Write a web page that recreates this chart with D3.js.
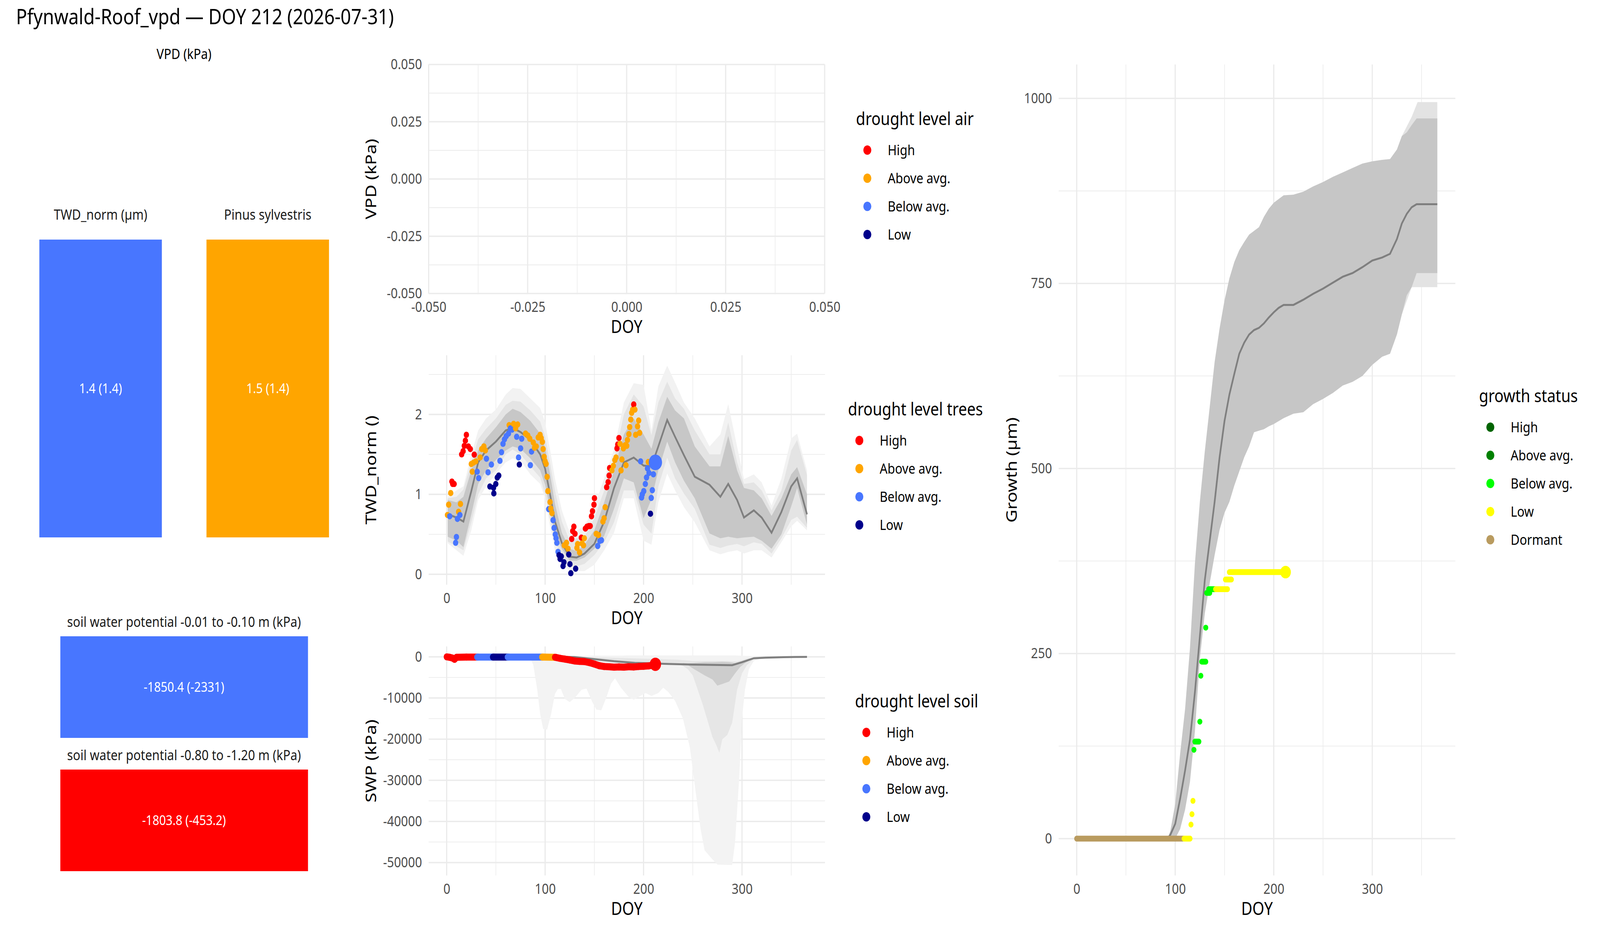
<!DOCTYPE html>
<html lang="en">
<head>
<meta charset="UTF-8">
<title>Pfynwald-Roof_vpd</title>
<script src="https://cdn.jsdelivr.net/npm/d3@7"></script>
<style>
  html, body { margin: 0; padding: 0; background: #fff; overflow: hidden; }
  svg { display: block; width: 100vw; height: 100vh; font-family: "Noto Sans", sans-serif; }
  .grid-major { stroke: #ebebeb; stroke-width: 3.6; }
  .grid-minor { stroke: #ebebeb; stroke-width: 1.8; }
  .tick-lab { fill: #4d4d4d; font-size: 36.7px; }
  .axis-title { fill: #000; font-size: 45.8px; }
  .leg-title { font-size: 45.8px; }
  .leg-text { font-size: 36.7px; }
</style>
</head>
<body>
<script>
    // drought classes
    const lvlCodes = ["H", "A", "B", "L"];
    const lvlNames = ["High", "Above avg.", "Below avg.", "Low"];
    const lvlColors = ["#ff0000", "#ffa500", "#4876ff", "#00008b"];

    const growthCodes = ["H", "A", "B", "L", "D"];
    const growthNames = ["High", "Above avg.", "Below avg.", "Low", "Dormant"];
    const growthColors = ["#006400", "#008000", "#00ff00", "#ffff00", "#b99b5f"];

    // left summary tiles
    const treeTiles = ["TWD_norm (µm)", "Pinus sylvestris"];
    const treeTileText = ["1.4 (1.4)", "1.5 (1.4)"];
    const treeTileLvl = ["B", "A"];
    const soilTiles = ["soil water potential -0.01 to -0.10 m (kPa)", "soil water potential -0.80 to -1.20 m (kPa)"];
    const soilTileText = ["-1850.4 (-2331)", "-1803.8 (-453.2)"];
    const soilTileLvl = ["B", "H"];

    // axis ticks
    const vpdTicks = [-0.05, -0.025, 0, 0.025, 0.05];
    const doyTicks = [0, 100, 200, 300];
    const twdTicks = [0, 1, 2];
    const swpTicks = [0, -10000, -20000, -30000, -40000, -50000];
    const growthTicks = [0, 250, 500, 750, 1000];

    // TWD climatology (median + three quantile bands)
    const twdDoy   = [1, 10, 17, 25, 32, 40, 50, 60, 67, 75, 85, 95, 100, 105, 110, 117, 125, 132, 140, 150, 160, 170, 180, 190, 200, 208, 215, 224, 232, 241, 252, 267, 278, 286, 295, 302, 312, 320, 330, 340, 350, 356, 366];
    const twdMed   = [0.75, 0.71, 0.66, 1.04, 1.4, 1.55, 1.66, 1.8, 1.83, 1.78, 1.68, 1.5, 1.32, 1.0, 0.66, 0.39, 0.22, 0.21, 0.26, 0.38, 0.66, 1.08, 1.4, 1.46, 1.36, 1.35, 1.6, 1.93, 1.72, 1.49, 1.22, 1.12, 0.97, 1.13, 0.93, 0.71, 0.8, 0.71, 0.52, 0.78, 1.1, 1.2, 0.75];
    const twdInLo  = [0.47, 0.42, 0.34, 0.75, 1.13, 1.3, 1.43, 1.55, 1.6, 1.57, 1.45, 1.3, 1.12, 0.82, 0.5, 0.32, 0.17, 0.17, 0.21, 0.32, 0.48, 0.82, 1.2, 1.15, 0.7, 0.94, 1.3, 1.66, 1.4, 1.17, 0.95, 0.51, 0.45, 0.47, 0.45, 0.46, 0.47, 0.42, 0.32, 0.5, 0.85, 1.08, 0.62];
    const twdInHi  = [0.93, 0.9, 0.97, 1.3, 1.55, 1.7, 1.84, 2.0, 2.07, 2.03, 1.92, 1.76, 1.58, 1.26, 0.88, 0.52, 0.32, 0.29, 0.37, 0.55, 0.9, 1.3, 1.75, 1.95, 1.75, 1.57, 1.9, 2.22, 2.05, 1.95, 1.6, 1.35, 1.35, 1.73, 1.3, 1.08, 1.05, 0.95, 0.73, 0.95, 1.25, 1.34, 1.0];
    const twdMdLo  = [0.41, 0.35, 0.3, 0.65, 1.0, 1.2, 1.3, 1.5, 1.56, 1.5, 1.35, 1.21, 1.0, 0.69, 0.4, 0.24, 0.1, 0.1, 0.13, 0.24, 0.4, 0.65, 1.05, 1.05, 0.62, 0.51, 1.1, 1.46, 1.2, 1.01, 0.82, 0.37, 0.33, 0.36, 0.38, 0.35, 0.4, 0.38, 0.26, 0.45, 0.68, 0.72, 0.58];
    const twdMdHi  = [0.95, 0.97, 1.06, 1.4, 1.69, 1.82, 1.95, 2.12, 2.17, 2.16, 2.05, 1.91, 1.72, 1.39, 1.05, 0.66, 0.42, 0.45, 0.47, 0.7, 1.05, 1.43, 2.0, 2.25, 2.1, 1.74, 2.15, 2.41, 2.2, 2.07, 1.8, 1.5, 1.5, 1.9, 1.4, 1.13, 1.15, 1.05, 0.8, 1.05, 1.55, 1.68, 1.24];
    const twdOutLo = [0.39, 0.3, 0.23, 0.55, 0.93, 1.1, 1.26, 1.4, 1.45, 1.42, 1.25, 1.13, 0.95, 0.6, 0.3, 0.15, 0.04, 0.04, 0.04, 0.12, 0.3, 0.52, 0.95, 0.95, 0.42, 0.37, 0.9, 1.26, 1.05, 0.84, 0.65, 0.3, 0.25, 0.28, 0.3, 0.26, 0.3, 0.3, 0.21, 0.4, 0.6, 0.67, 0.55];
    const twdOutHi = [0.97, 1.05, 1.1, 1.5, 1.8, 1.95, 2.06, 2.25, 2.33, 2.32, 2.2, 2.08, 1.9, 1.56, 1.2, 0.8, 0.52, 0.55, 0.6, 0.85, 1.2, 1.56, 2.15, 2.39, 2.37, 1.8, 2.35, 2.61, 2.4, 2.15, 1.95, 1.6, 1.75, 2.13, 1.6, 1.19, 1.25, 1.15, 0.86, 1.2, 1.7, 1.76, 1.3];

    // TWD observations of the current year
    const twdObsDoy = [0.8, 2, 4.1, 3.1, 5.3, 6.1, 7.6, 9.1, 9.9, 10.9, 12.1, 13.4, 14, 15.2, 16.7, 17.9, 19, 20, 22, 24, 25, 26, 27.2, 28, 29.5, 31, 32.5, 34, 35.6, 37.8, 39.3, 40.4, 42, 43.9, 45.4, 47.6, 47.9, 49.9, 51.4, 52.9, 54.1, 55.7, 57.2, 58.7, 60.5, 62.8, 63.5, 64.7, 66.5, 68, 70, 71.1, 72.1, 73, 73.8, 75.1, 76.2, 80.1, 82.4, 84.4, 85, 86.2, 88, 89.2, 91, 93, 94.9, 96, 97.2, 98, 99, 100, 101, 102, 102.8, 103.6, 105, 105.8, 106.9, 108.1, 109.1, 110.3, 111.1, 111.9, 113.1, 114.1, 115.2, 116.4, 118.2, 119.1, 119.4, 121.7, 123.2, 124, 125.2, 126.1, 127, 128, 129.2, 130.3, 131, 132.3, 133, 135, 136.8, 137.5, 139, 139.8, 140.9, 142.5, 144.3, 145.8, 147.1, 148.1, 149.6, 150.1, 151.9, 153.4, 154.2, 155.7, 157.2, 158.7, 159.9, 161, 162.5, 164, 165, 165.5, 167.8, 169.3, 170.8, 172, 173, 173.8, 175, 176.1, 177.1, 178, 179.5, 181.3, 182.1, 182.9, 183.6, 185.1, 185.9, 187, 187.9, 188.9, 190, 191.2, 192, 193.9, 195, 196, 197, 198, 198.7, 200.2, 201.8, 203, 204, 204.8, 205.5, 207, 207.8, 208.9, 210];
    const twdObsVal = [0.742, 0.871, 1.017, 0.726, 1.16, 1.13, 1.13, 0.394, 0.467, 0.693, 0.782, 0.742, 0.88, 1.5, 1.54, 1.607, 1.672, 1.745, 1.6, 1.567, 1.38, 1.284, 1.397, 1.497, 1.413, 1.284, 1.203, 1.462, 1.567, 1.6, 1.55, 1.446, 1.276, 1.098, 1.373, 1.082, 1.012, 1.13, 1.21, 1.235, 1.42, 1.527, 1.632, 1.688, 1.729, 1.761, 1.866, 1.826, 1.81, 1.882, 1.826, 1.72, 1.874, 1.462, 1.373, 1.575, 1.696, 1.761, 1.737, 1.696, 1.365, 1.535, 1.648, 1.583, 1.6, 1.712, 1.745, 1.704, 1.656, 1.567, 1.47, 1.413, 1.381, 1.219, 1.041, 0.815, 0.904, 0.823, 0.766, 0.677, 0.58, 0.499, 0.451, 0.394, 0.281, 0.24, 0.192, 0.224, 0.103, 0.151, 0.362, 0.394, 0.321, 0.248, 0.127, 0.014, 0.442, 0.54, 0.596, 0.507, 0.07, 0.33, 0.378, 0.273, 0.459, 0.386, 0.362, 0.451, 0.572, 0.596, 0.604, 0.604, 0.726, 0.79, 0.871, 0.952, 0.507, 0.354, 0.491, 0.418, 0.426, 0.66, 0.701, 0.839, 1.09, 1.154, 1.235, 1.33, 1.3, 1.357, 1.429, 1.462, 1.575, 1.624, 1.705, 1.632, 1.3, 1.437, 1.575, 1.616, 1.365, 1.607, 1.68, 1.753, 1.842, 1.936, 2.02, 2.06, 2.125, 2.06, 1.745, 1.85, 1.923, 1.769, 1.413, 0.96, 1.0, 1.041, 1.13, 1.211, 1.324, 1.405, 1.268, 0.758, 0.955, 1.052, 1.251];
    const twdObsLvl = ["A", "A", "A", "B", "H", "H", "H", "B", "B", "B", "A", "B", "A", "H", "H", "H", "H", "H", "H", "H", "A", "A", "A", "H", "A", "B", "B", "A", "A", "A", "A", "B", "B", "L", "B", "L", "L", "L", "L", "L", "B", "B", "B", "B", "B", "B", "A", "B", "B", "A", "A", "B", "A", "B", "L", "B", "B", "A", "A", "A", "B", "B", "A", "A", "A", "A", "A", "A", "A", "A", "A", "A", "A", "A", "A", "B", "A", "A", "A", "B", "B", "B", "B", "B", "B", "L", "L", "L", "L", "L", "A", "A", "A", "L", "L", "L", "H", "H", "H", "H", "L", "A", "A", "A", "H", "A", "A", "A", "H", "H", "H", "H", "H", "H", "H", "H", "A", "B", "A", "B", "B", "A", "A", "A", "H", "H", "H", "H", "A", "A", "A", "A", "H", "H", "H", "A", "A", "A", "A", "A", "A", "A", "A", "A", "A", "A", "A", "A", "H", "A", "A", "A", "A", "A", "B", "B", "B", "B", "B", "B", "B", "A", "B", "L", "B", "B", "B"];
    const twdNow = { doy: 212, val: 1.4, lvl: "B" };

    // soil water potential: climatology and current year
    const swpOutDoy = [80, 85, 88, 92, 95, 98, 102, 106, 110, 113, 116, 120, 125, 130, 137, 142, 148, 152, 157, 162, 167, 171, 177, 185, 190, 196, 202, 208, 215, 220, 225, 232, 240, 247, 253, 258, 262, 268, 275, 290, 293, 297, 300, 303, 307, 312, 320, 335];
    const swpOutLo  = [0, -300, -2000, -8000, -14000, -17500, -17700, -14000, -9000, -7800, -7800, -10200, -11000, -10000, -8000, -7700, -11000, -12800, -13000, -10000, -6500, -5200, -7500, -9800, -10400, -9600, -8800, -9500, -8800, -7500, -8500, -10700, -15000, -22000, -33000, -42000, -47000, -48700, -50500, -50600, -45000, -30000, -15000, -8000, -3000, -1000, -300, 0];
    const swpOutHi  = [0, 0, 0, 0, 0, 0, 0, 100, 150, 200, 200, 200, 200, 250, 250, 250, 300, 300, 300, 300, 300, 300, 300, 350, 350, 350, 350, 350, 350, 350, 350, 350, 350, 350, 350, 350, 350, 350, 350, 350, 350, 300, 300, 250, 200, 100, 0, 0];
    const swpMidDoy = [100, 120, 150, 180, 210, 235, 240, 245, 250, 255, 260, 265, 270, 274, 277, 280, 285, 290, 295, 300, 305, 312, 320, 330];
    const swpMidLo  = [0, -300, -1000, -1700, -1900, -1800, -2200, -3000, -4500, -8000, -11500, -15500, -19500, -21500, -23300, -20000, -19000, -16000, -8000, -4000, -2000, -500, -200, 0];
    const swpMidHi  = [0, 0, -100, -300, -500, -700, -800, -900, -1000, -1000, -1000, -1000, -1000, -1000, -1000, -1000, -1000, -1100, -1100, -800, -400, -200, -100, 0];
    const swpInDoy  = [240, 245, 250, 255, 262, 270, 275, 280, 287, 293, 298, 303, 310];
    const swpInLo   = [-1800, -2000, -2800, -3500, -4500, -5500, -7000, -6600, -6000, -4000, -2500, -1500, -500];
    const swpInHi   = [-1500, -1600, -1500, -1400, -1300, -1300, -1250, -1200, -1300, -1500, -1200, -800, -300];
    const swpRefDoy = [0, 120, 130, 148, 170, 191, 206, 221, 251, 290, 300, 312, 324, 342, 366];
    const swpRefMed = [0, 0, -50, -500, -1060, -1450, -1550, -1700, -1890, -2030, -1300, -340, -200, -80, 0];

    const swpObsDoy = [0, 3, 6, 8, 10, 20, 31, 32, 47, 48, 62, 63, 97, 98, 110, 111, 115, 120, 125, 130, 135, 140, 145, 150, 155, 160, 165, 170, 175, 180, 185, 190, 195, 200, 205, 210, 212];
    const swpObsVal = [0, -100, -300, -600, -100, -50, -50, -50, -50, -50, -50, -50, -50, -50, -100, -150, -350, -550, -750, -1000, -1100, -1150, -1400, -1750, -2150, -2350, -2400, -2500, -2450, -2500, -2400, -2450, -2350, -2300, -2200, -2000, -1804];
    const swpObsLvl = ["H", "H", "H", "H", "H", "H", "H", "B", "B", "L", "L", "B", "B", "A", "A", "H", "H", "H", "H", "H", "H", "H", "H", "H", "H", "H", "H", "H", "H", "H", "H", "H", "H", "H", "H", "H", "H"];
    const swpNow = { doy: 212, val: -1804, lvl: "H" };

    // cumulative growth: climatology and current year
    const grDoy = [0, 92, 95, 100, 105, 110, 115, 120, 125, 130, 135, 140, 145, 150, 155, 160, 165, 170, 175, 180, 185, 190, 195, 200, 205, 210, 220, 230, 240, 250, 260, 270, 280, 290, 300, 310, 318, 325, 330, 335, 340, 345, 366];
    const grMed = [0, 0, 5, 20, 54, 92, 134, 198, 273, 349, 402, 455, 515, 564, 600, 628, 655, 670, 681, 687, 690, 696, 704, 711, 717, 721, 721, 728, 736, 743, 751, 759, 764, 772, 781, 785, 790, 810, 831, 844, 853, 857, 857];
    const grHi  = [0, 0, 10, 47, 115, 175, 258, 372, 455, 523, 583, 644, 689, 727, 757, 779, 795, 806, 816, 821, 826, 840, 851, 859, 864, 869, 870, 874, 881, 887, 894, 900, 906, 912, 915, 917, 918, 931, 949, 954, 964, 973, 973];
    const grLo  = [0, 0, 0, 0, 13, 39, 77, 145, 243, 304, 345, 383, 417, 440, 455, 477, 496, 515, 530, 549, 551, 553, 557, 560, 564, 568, 574, 576, 587, 594, 602, 612, 617, 625, 640, 651, 655, 681, 708, 734, 745, 764, 764];
    const grTailDoy = [330, 340, 346, 366];
    const grTailHi  = [949, 975, 995, 995];
    const grTailLo  = [708, 745, 745, 745];

    const grRunStart = [0, 109, 116, 117, 118, 119, 120, 125, 126, 127, 131, 132, 134, 141, 151, 155];
    const grRunEnd   = [108, 115, 116, 117, 118, 119, 124, 125, 126, 131, 131, 135, 142, 153, 157, 212];
    const grRunVal   = [0, 0, 19, 33, 51, 120, 131, 158, 220, 239, 285, 332, 337, 337, 350, 360];
    const grRunLvl   = ["D", "L", "L", "L", "L", "B", "B", "B", "B", "B", "B", "B", "B", "L", "L", "L"];
    const grNow = { doy: 212, val: 360, lvl: "L" };

    // drawing space; stretched onto whatever window the page gets
    const width = 4800;
    const height = 2400;

    const svg = d3.select("body").append("svg")
            .attr("viewBox", `0 0 ${width} ${height}`)
            .attr("preserveAspectRatio", "none");
    svg.append("rect").attr("width", width).attr("height", height).attr("fill", "#fff");

    const lvlColor = d3.scaleOrdinal().domain(lvlCodes).range(lvlColors);
    const growthColor = d3.scaleOrdinal().domain(growthCodes).range(growthColors);

    // ---------- title and left tiles ----------
    svg.append("text").attr("x", 48).attr("y", 43).attr("dy", "0.35em")
        .style("font-size", "55px").text("Pfynwald-Roof_vpd — DOY 212 (2026-07-31)");

    svg.append("text").attr("x", 552).attr("y", 138).attr("dy", "0.35em")
        .attr("text-anchor", "middle").style("font-size", "36.7px").text("VPD (kPa)");

    const tileX = d3.scaleBand().domain(treeTiles).range([118, 987]).paddingInner(0.267);
    const treeG = svg.append("g");
    treeTiles.forEach((t, i) => {
        treeG.append("rect").attr("x", tileX(t)).attr("y", 613)
            .attr("width", tileX.bandwidth()).attr("height", 762)
            .attr("fill", lvlColor(treeTileLvl[i]));
        treeG.append("text").attr("x", tileX(t) + tileX.bandwidth() / 2).attr("y", 549).attr("dy", "0.35em")
            .attr("text-anchor", "middle").style("font-size", "36.7px").attr("fill", "#1a1a1a").text(t);
        treeG.append("text").attr("x", tileX(t) + tileX.bandwidth() / 2).attr("y", 994).attr("dy", "0.35em")
            .attr("text-anchor", "middle").style("font-size", "35px").attr("fill", "#fff").text(treeTileText[i]);
    });

    const tileY = d3.scaleBand().domain(soilTiles).range([1628, 2229]).paddingInner(0.2375);
    const soilG = svg.append("g");
    soilTiles.forEach((t, i) => {
        soilG.append("rect").attr("x", 181).attr("y", tileY(t))
            .attr("width", 743).attr("height", tileY.bandwidth())
            .attr("fill", lvlColor(soilTileLvl[i]));
        soilG.append("text").attr("x", 552).attr("y", tileY(t) - 37).attr("dy", "0.35em")
            .attr("text-anchor", "middle").style("font-size", "36.7px").attr("fill", "#1a1a1a").text(t);
        soilG.append("text").attr("x", 552).attr("y", tileY(t) + tileY.bandwidth() / 2).attr("dy", "0.35em")
            .attr("text-anchor", "middle").style("font-size", "35px").attr("fill", "#fff").text(soilTileText[i]);
    });

    // ---------- helpers ----------
    function minorsOf(ticks, domain) {
        const out = [];
        for (let i = 0; i < ticks.length - 1; i++) out.push((ticks[i] + ticks[i + 1]) / 2);
        const step = Math.abs(ticks[1] - ticks[0]);
        const lo = Math.min(...ticks), hi = Math.max(...ticks);
        if (lo - step / 2 >= Math.min(...domain)) out.push(lo - step / 2);
        if (hi + step / 2 <= Math.max(...domain)) out.push(hi + step / 2);
        return out;
    }

    function panel(x, y, xTicks, yTicks, fmtX, fmtY, xTitle, yTitle, yTitleX) {
        const g = svg.append("g");
        const [x0, x1] = x.range();
        const [y1, y0] = y.range();
        g.selectAll("line.ymin").data(minorsOf(yTicks, y.domain())).enter().append("line")
            .attr("class", "grid-minor").attr("x1", x0).attr("x2", x1)
            .attr("y1", d => y(d)).attr("y2", d => y(d));
        g.selectAll("line.xmin").data(minorsOf(xTicks, x.domain())).enter().append("line")
            .attr("class", "grid-minor").attr("y1", y0).attr("y2", y1)
            .attr("x1", d => x(d)).attr("x2", d => x(d));
        g.selectAll("line.ymaj").data(yTicks).enter().append("line")
            .attr("class", "grid-major").attr("x1", x0).attr("x2", x1)
            .attr("y1", d => y(d)).attr("y2", d => y(d));
        g.selectAll("line.xmaj").data(xTicks).enter().append("line")
            .attr("class", "grid-major").attr("y1", y0).attr("y2", y1)
            .attr("x1", d => x(d)).attr("x2", d => x(d));

        const ax = g.append("g").attr("transform", `translate(0,${y1 + 21})`)
            .call(d3.axisBottom(x).tickValues(xTicks).tickFormat(fmtX).tickSize(0).tickPadding(0));
        ax.select(".domain").remove();
        ax.selectAll("text").attr("class", "tick-lab").attr("dy", "0.71em");
        ax.attr("font-family", null).attr("font-size", null);

        const ay = g.append("g").attr("transform", `translate(${x0 - 20},0)`)
            .call(d3.axisLeft(y).tickValues(yTicks).tickFormat(fmtY).tickSize(0).tickPadding(0));
        ay.select(".domain").remove();
        ay.selectAll("text").attr("class", "tick-lab");
        ay.attr("font-family", null).attr("font-size", null);

        g.append("text").attr("class", "axis-title").attr("x", (x0 + x1) / 2).attr("y", y1 + 85)
            .attr("dy", "0.35em").attr("text-anchor", "middle").text(xTitle);
        g.append("text").attr("class", "axis-title")
            .attr("transform", `translate(${yTitleX},${(y0 + y1) / 2}) rotate(-90)`)
            .attr("dy", "0.35em").attr("text-anchor", "middle").text(yTitle);
        return g;
    }

    function band(g, x, y, doy, lo, hi, fill) {
        g.append("path").datum(doy.map((d, i) => [d, lo[i], hi[i]]))
            .attr("fill", fill)
            .attr("d", d3.area().x(d => x(d[0])).y0(d => y(d[1])).y1(d => y(d[2])));
    }

    function medLine(g, x, y, doy, vals) {
        g.append("path").datum(doy.map((d, i) => [d, vals[i]]))
            .attr("fill", "none").attr("stroke", "#7f7f7f").attr("stroke-width", 5)
            .attr("d", d3.line().x(d => x(d[0])).y(d => y(d[1])));
    }

    function legend(x, y, title, names, colors) {
        const g = svg.append("g");
        g.append("text").attr("class", "leg-title").attr("x", x).attr("y", y).attr("dy", "0.35em").text(title);
        names.forEach((n, i) => {
            g.append("circle").attr("cx", x + 34).attr("cy", y + 80 + 72 * i).attr("r", 12).attr("fill", colors[i]);
            g.append("text").attr("class", "leg-text").attr("x", x + 95).attr("y", y + 80 + 72 * i)
                .attr("dy", "0.35em").text(n);
        });
    }

    const fmtInt = d => String(d);

    // ---------- VPD panel (no data) ----------
    const xVpd = d3.scaleLinear().domain([-0.05, 0.05]).range([1286, 2474]);
    const yVpd = d3.scaleLinear().domain([-0.05, 0.05]).range([751, 165]);
    panel(xVpd, yVpd, vpdTicks, vpdTicks, d => d.toFixed(3), d => d.toFixed(3), "DOY", "VPD (kPa)", 1113);
    legend(2568, 304, "drought level air", lvlNames, lvlColors);

    // ---------- TWD panel ----------
    const xTwd = d3.scaleLinear().domain([-18.3, 384.3]).range([1286, 2475]);
    const yTwd = d3.scaleLinear().domain([-0.13, 2.74]).range([1496, 909]);
    const twdG = panel(xTwd, yTwd, doyTicks, twdTicks, fmtInt, fmtInt, "DOY", "TWD_norm ()", 1113);
    band(twdG, xTwd, yTwd, twdDoy, twdOutLo, twdOutHi, "#f2f2f2");
    band(twdG, xTwd, yTwd, twdDoy, twdMdLo, twdMdHi, "#e4e4e4");
    band(twdG, xTwd, yTwd, twdDoy, twdInLo, twdInHi, "#c7c7c7");
    medLine(twdG, xTwd, yTwd, twdDoy, twdMed);
    twdG.selectAll("circle.obs").data(twdObsDoy).enter().append("circle")
        .attr("cx", d => xTwd(d)).attr("cy", (d, i) => yTwd(twdObsVal[i]))
        .attr("r", 8).attr("fill", (d, i) => lvlColor(twdObsLvl[i]));
    twdG.append("circle").attr("cx", xTwd(twdNow.doy)).attr("cy", yTwd(twdNow.val))
        .attr("r", 20).attr("fill", lvlColor(twdNow.lvl));
    legend(2544, 1047, "drought level trees", lvlNames, lvlColors);

    // ---------- SWP panel ----------
    const xSwp = d3.scaleLinear().domain([-18.3, 384.3]).range([1286, 2475]);
    const ySwp = d3.scaleLinear().domain([-53130, 2530]).range([2240, 1654]);
    const swpG = panel(xSwp, ySwp, doyTicks, swpTicks, fmtInt, fmtInt, "DOY", "SWP (kPa)", 1113);
    band(swpG, xSwp, ySwp, swpOutDoy, swpOutLo, swpOutHi, "#f3f3f3");
    band(swpG, xSwp, ySwp, swpMidDoy, swpMidLo, swpMidHi, "#e6e6e6");
    band(swpG, xSwp, ySwp, swpInDoy, swpInLo, swpInHi, "#cdcdcd");
    medLine(swpG, xSwp, ySwp, swpRefDoy, swpRefMed);
    swpG.selectAll("line.obs").data(swpObsDoy.slice(1)).enter().append("line")
        .attr("x1", (d, i) => xSwp(swpObsDoy[i])).attr("y1", (d, i) => ySwp(swpObsVal[i]))
        .attr("x2", d => xSwp(d)).attr("y2", (d, i) => ySwp(swpObsVal[i + 1]))
        .attr("stroke", (d, i) => lvlColor(swpObsLvl[i + 1]))
        .attr("stroke-width", 18).attr("stroke-linecap", "round");
    swpG.append("circle").attr("cx", xSwp(swpNow.doy)).attr("cy", ySwp(swpNow.val))
        .attr("r", 17).attr("fill", lvlColor(swpNow.lvl));
    legend(2565, 1794, "drought level soil", lvlNames, lvlColors);

    // ---------- growth panel ----------
    const xGr = d3.scaleLinear().domain([-18.3, 384.3]).range([3176, 4366]);
    const yGr = d3.scaleLinear().domain([-49.8, 1045.8]).range([2240, 165]);
    const grG = panel(xGr, yGr, doyTicks, growthTicks, fmtInt, fmtInt, "DOY", "Growth (µm)", 3034);
    band(grG, xGr, yGr, grTailDoy, grTailLo, grTailHi, "#e3e3e3");
    band(grG, xGr, yGr, grDoy, grLo, grHi, "#c6c6c6");
    medLine(grG, xGr, yGr, grDoy, grMed);
    grG.selectAll("line.run").data(grRunStart).enter().append("line")
        .attr("x1", d => xGr(d)).attr("x2", (d, i) => xGr(grRunEnd[i]))
        .attr("y1", (d, i) => yGr(grRunVal[i])).attr("y2", (d, i) => yGr(grRunVal[i]))
        .attr("stroke", (d, i) => growthColor(grRunLvl[i]))
        .attr("stroke-width", 15).attr("stroke-linecap", "round");
    grG.append("circle").attr("cx", xGr(grNow.doy)).attr("cy", yGr(grNow.val))
        .attr("r", 16).attr("fill", growthColor(grNow.lvl));
    legend(4437, 1013, "growth status", growthNames, growthColors);
</script>
</body>
</html>
